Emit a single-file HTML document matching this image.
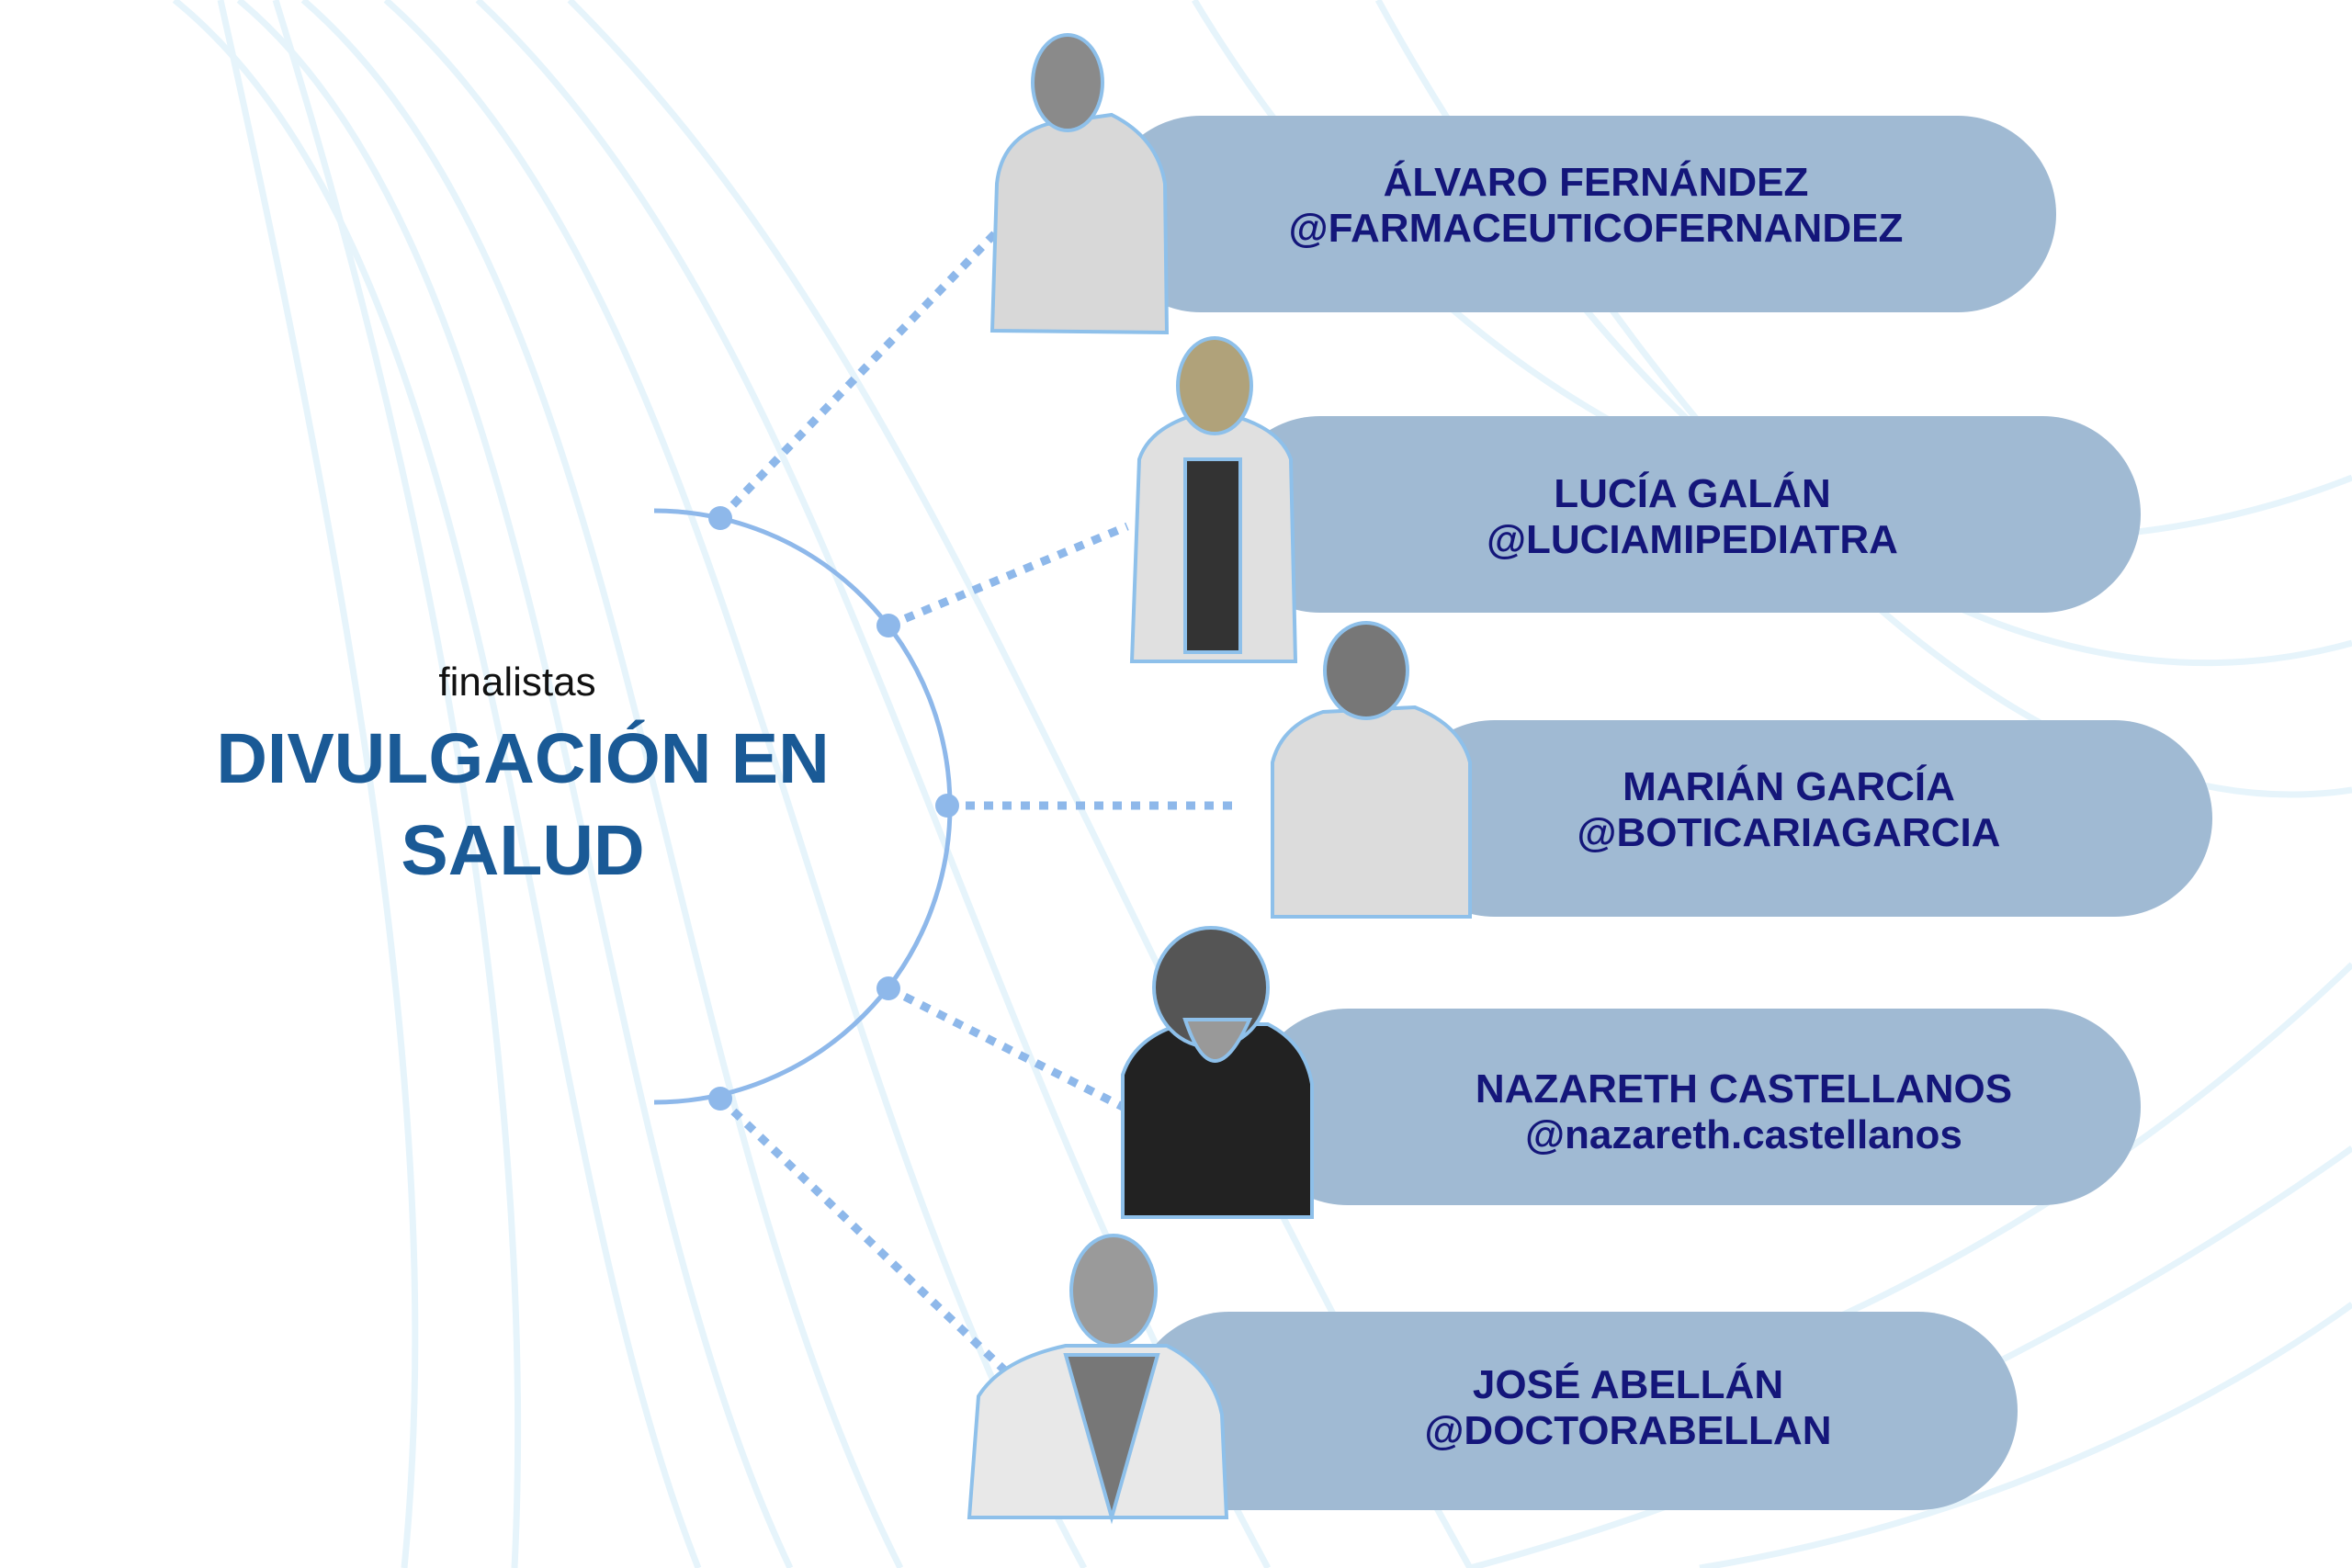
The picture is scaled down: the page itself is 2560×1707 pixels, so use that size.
<!DOCTYPE html>
<html><head><meta charset="utf-8"><style>
body{margin:0;width:2560px;height:1707px;background:#fff;overflow:hidden;position:relative;font-family:"Liberation Sans",sans-serif}
svg{position:absolute;left:0;top:0}
.t{position:absolute;text-align:center;font-weight:bold;color:#14167a;font-size:44px;line-height:50px;white-space:nowrap;transform:translate(-50%,-50%)}
</style></head><body>
<svg width="2560" height="1707" viewBox="0 0 2560 1707">
<g fill="none" stroke="#e6f4fb" stroke-width="7">
<path d="M190 0 C560 300 560 1200 760 1707"/>
<path d="M260 0 C620 300 620 1200 860 1707"/>
<path d="M330 0 C700 320 700 1150 980 1707"/>
<path d="M420 0 C800 340 850 1100 1180 1707"/>
<path d="M520 0 C900 360 1000 1000 1380 1707"/>
<path d="M620 0 C1000 380 1150 900 1600 1707"/>
<path d="M440 1707 C480 1300 420 800 240 0"/>
<path d="M560 1707 C580 1300 520 700 300 0"/>
<path d="M1300 0 C1600 500 2100 700 2560 520"/>
<path d="M1500 0 C1800 550 2200 800 2560 700"/>
<path d="M1700 260 C2000 700 2300 900 2560 860"/>
<path d="M1400 1600 C1900 1550 2300 1300 2560 1050"/>
<path d="M1600 1707 C2000 1600 2350 1400 2560 1250"/>
<path d="M1850 1707 C2200 1650 2450 1500 2560 1420"/>
</g>
<path d="M712 556 A322 322 0 0 1 712 1200" fill="none" stroke="#8eb8ea" stroke-width="5"/>
<g stroke="#8eb8ea" stroke-width="9" stroke-dasharray="10 10" fill="none">
<line x1="784" y1="564" x2="1088" y2="249"/>
<line x1="967" y1="681" x2="1227" y2="573"/>
<line x1="1031" y1="877" x2="1345" y2="877"/>
<line x1="967" y1="1076" x2="1224" y2="1206"/>
<line x1="784" y1="1196" x2="1099" y2="1497"/>
</g>
<g fill="#8eb8ea">
<circle cx="784" cy="564" r="13"/><circle cx="967" cy="681" r="13"/><circle cx="1031" cy="877" r="13"/><circle cx="967" cy="1076" r="13"/><circle cx="784" cy="1196" r="13"/>
</g>
<g fill="#a0bad3">
<rect x="1200" y="126" width="1038" height="214" rx="107"/>
<rect x="1330" y="453" width="1000" height="214" rx="107"/>
<rect x="1520" y="784" width="888" height="214" rx="107"/>
<rect x="1360" y="1098" width="970" height="214" rx="107"/>
<rect x="1230" y="1428" width="966" height="216" rx="108"/>
</g>
<g stroke="#8ec0ea" stroke-width="4">
<path d="M1080 360 L1085 200 Q1090 150 1140 135 L1210 125 Q1260 150 1268 200 L1270 362 Z" fill="#d8d8d8"/>
<ellipse cx="1162" cy="90" rx="38" ry="52" fill="#8a8a8a"/>
<path d="M1232 720 L1240 500 Q1250 470 1290 455 L1350 455 Q1395 470 1405 500 L1410 720 Z" fill="#e0e0e0"/>
<rect x="1290" y="500" width="60" height="210" fill="#333"/>
<ellipse cx="1322" cy="420" rx="40" ry="52" fill="#b0a27a"/>
<path d="M1385 998 L1385 830 Q1395 790 1440 775 L1540 770 Q1590 790 1600 830 L1600 998 Z" fill="#dcdcdc"/>
<ellipse cx="1487" cy="730" rx="45" ry="52" fill="#777"/>
<path d="M1222 1325 L1222 1170 Q1235 1130 1285 1115 L1380 1115 Q1420 1135 1428 1180 L1428 1325 Z" fill="#222"/>
<ellipse cx="1318" cy="1075" rx="62" ry="65" fill="#555"/>
<path d="M1290 1110 Q1320 1200 1360 1110 Z" fill="#999"/>
<path d="M1055 1652 L1065 1520 Q1090 1480 1160 1465 L1270 1465 Q1320 1490 1330 1540 L1335 1652 Z" fill="#e8e8e8"/>
<path d="M1160 1475 L1210 1652 L1260 1475 Z" fill="#777"/>
<ellipse cx="1212" cy="1405" rx="46" ry="60" fill="#9a9a9a"/>
</g>
</svg>
<div style="position:absolute;left:563px;top:743px;transform:translate(-50%,-50%);font-size:44px;color:#111;white-space:nowrap">finalistas</div>
<div style="position:absolute;left:569px;top:876px;transform:translate(-50%,-50%);font-size:77px;line-height:100px;font-weight:bold;color:#1a5a96;text-align:center;white-space:nowrap">DIVULGACIÓN EN<br>SALUD</div>
<div class="t" style="left:1737px;top:224px">ÁLVARO FERNÁNDEZ<br>@FARMACEUTICOFERNANDEZ</div>
<div class="t" style="left:1842px;top:563px">LUCÍA GALÁN<br>@LUCIAMIPEDIATRA</div>
<div class="t" style="left:1947px;top:882px">MARIÁN GARCÍA<br>@BOTICARIAGARCIA</div>
<div class="t" style="left:1898px;top:1211px">NAZARETH CASTELLANOS<br>@nazareth.castellanos</div>
<div class="t" style="left:1772px;top:1533px">JOSÉ ABELLÁN<br>@DOCTORABELLAN</div>
</body></html>
